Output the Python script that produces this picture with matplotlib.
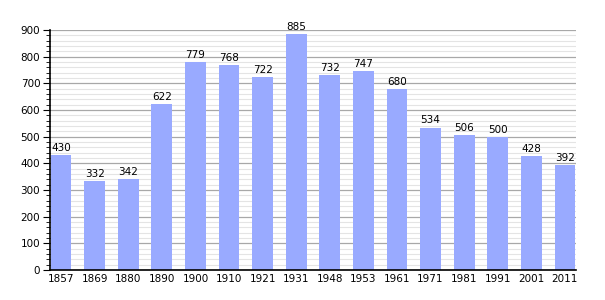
import numpy as np
import matplotlib.pyplot as plt
from matplotlib.ticker import MultipleLocator

years = ['1857', '1869', '1880', '1890', '1900', '1910', '1921', '1931',
         '1948', '1953', '1961', '1971', '1981', '1991', '2001', '2011']
population = [430, 332, 342, 622, 779, 768, 722, 885,
              732, 747, 680, 534, 506, 500, 428, 392]

fig = plt.figure(figsize=(6.05, 3.0), dpi=100)
ax = fig.add_axes([50 / 605, 0.1, 526 / 605, 0.8])

x = np.arange(len(years))
ax.bar(x, population, width=0.62, color='#99aaff', zorder=2)

# підписи над стовпцями
for i, v in enumerate(population):
    ax.text(i, v + 8, str(v), ha='center', va='bottom', fontsize=7.5)

ax.set_xlim(-0.33, len(years) - 0.67)
ax.set_ylim(0, 900)
ax.yaxis.set_major_locator(MultipleLocator(100))
ax.yaxis.set_minor_locator(MultipleLocator(20))
ax.grid(axis='y', which='major', color='#a8a8a8', linewidth=0.9, zorder=0)
ax.grid(axis='y', which='minor', color='#e4e4e4', linewidth=0.8, zorder=0)

ax.set_xticks(x)
ax.set_xticklabels(years)
ax.tick_params(axis='x', length=0, labelsize=7.5, pad=3)
ax.tick_params(axis='y', which='major', length=5, labelsize=7.5, pad=2)
ax.tick_params(axis='y', which='minor', length=3)

for s in ['top', 'right']:
    ax.spines[s].set_visible(False)
ax.spines['left'].set_linewidth(1.2)
ax.spines['bottom'].set_linewidth(1.2)

fig.savefig('out.png', dpi=100)
